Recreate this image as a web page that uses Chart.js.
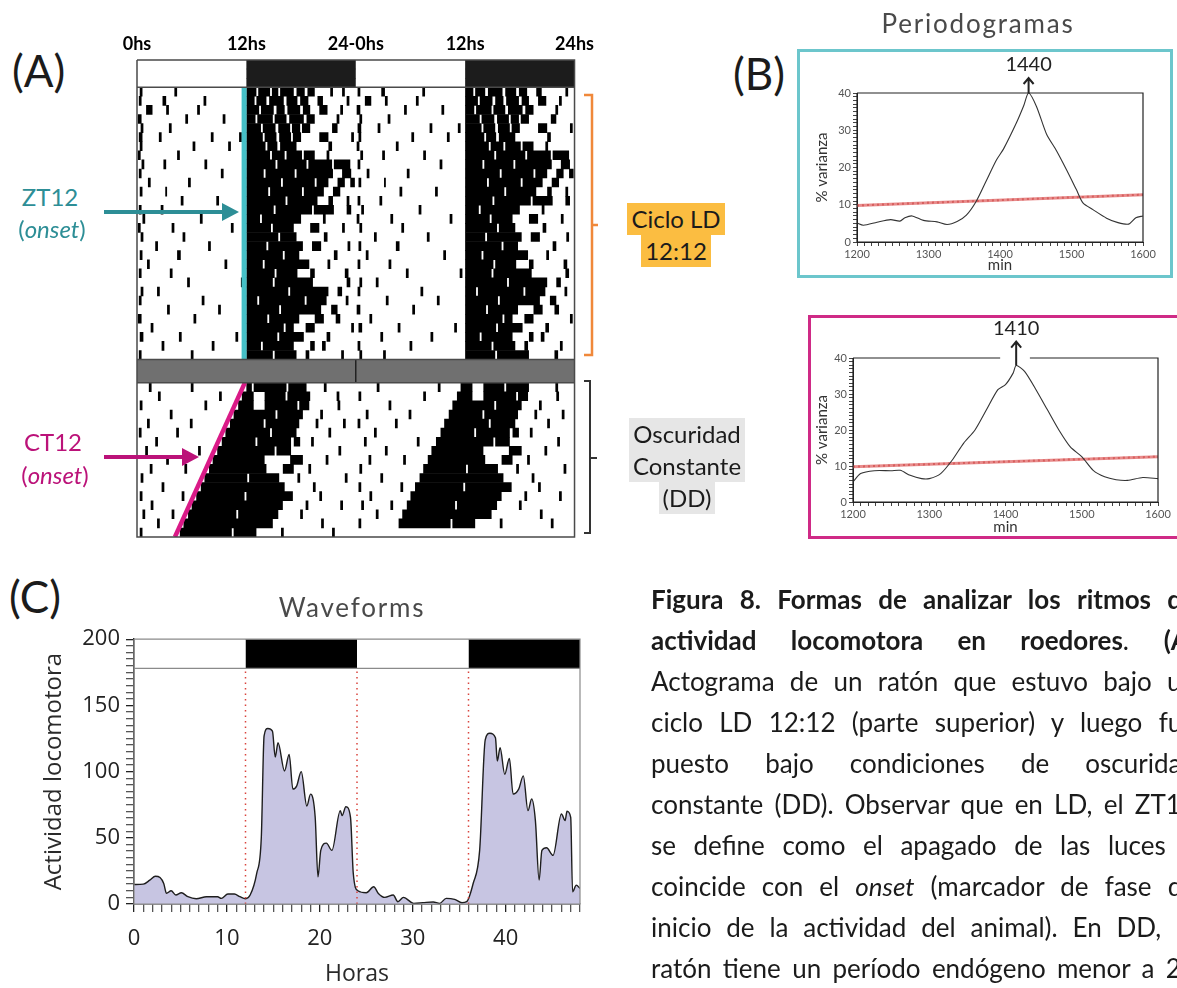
<!DOCTYPE html>
<html lang="es">
<head>
<meta charset="utf-8">
<title>Figura 8</title>
<script src="https://cdn.jsdelivr.net/npm/chart.js@4.4.1/dist/chart.umd.min.js"></script>
<style>
  html, body { margin: 0; padding: 0; background: #fff; }
  body { width: 1177px; height: 988px; position: relative; overflow: hidden; font-family: Lato, "Open Sans", sans-serif; color: #1b1b1b; }
  .abs { position: absolute; }
  .lbl { position: absolute; white-space: nowrap; }
  .panel { font-size: 44px; line-height: 1; }
  .teal { color: #2d8e96; font-size: 24px; text-align: center; width: 100px; }
  .mag { color: #bb1279; font-size: 24px; text-align: center; width: 100px; }
  .hl { text-align: center; font-size: 24px; line-height: 32px; }
  .hl span { display: inline-block; padding: 0 4px; }
  .orange span { background: #fbbd41; }
  .gray span { background: #e6e6e6; }
  .ttl { font-size: 26px; color: #4a4a4a; letter-spacing: 1.8px; text-align: center; }
  .pbox { position: absolute; box-sizing: border-box; border: 3px solid; }
  #caption { position: absolute; left: 651px; top: 579px; width: 545px; font-size: 26px; color: #1b1b1b; }
  #caption div { height: 41px; line-height: 41px; text-align: justify; text-align-last: justify; white-space: nowrap; }
</style>
</head>
<body>

<div class="lbl panel" style="left:12px;top:48px">(A)</div>
<div class="lbl panel" style="left:733px;top:51px">(B)</div>
<div class="lbl panel" style="left:9px;top:574px">(C)</div>

<div class="abs" style="left:100px;top:25px;width:499px;height:515px"><canvas id="acto"></canvas></div>

<div class="lbl teal" style="left:0px;top:182px">ZT12</div>
<div class="lbl teal" style="left:2px;top:214px">(<i>onset</i>)</div>
<div class="lbl mag" style="left:3px;top:427px">CT12</div>
<div class="lbl mag" style="left:5px;top:460px">(<i>onset</i>)</div>

<svg class="abs" style="left:0;top:0" width="1177" height="988">
  <line x1="104" y1="212" x2="226" y2="212" stroke="#2d8e96" stroke-width="4"/>
  <polygon points="222,203 239,212 222,221" fill="#2d8e96"/>
  <line x1="104" y1="457" x2="186" y2="457" stroke="#bb1279" stroke-width="4"/>
  <polygon points="182,448 199,457 182,466" fill="#bb1279"/>
  <path d="M584,95 H592 V355 H584 M592,225 H598" stroke="#f0883a" stroke-width="2.5" fill="none"/>
  <path d="M584,381 H590 V533 H584 M590,458 H597" stroke="#333" stroke-width="2" fill="none"/>
</svg>

<div class="lbl hl orange" style="left:596px;top:203px;width:160px"><span>Ciclo LD</span><br><span>12:12</span></div>
<div class="lbl hl gray" style="left:607px;top:418px;width:160px"><span>Oscuridad</span><br><span>Constante</span><br><span>(DD)</span></div>

<div class="lbl ttl" style="left:828px;top:7px;width:300px">Periodogramas</div>
<div class="pbox" style="left:797px;top:49px;width:376px;height:229px;border-color:#6cc6cc"></div>
<div class="abs" style="left:800px;top:52px;width:370px;height:222px"><canvas id="perA"></canvas></div>
<div class="pbox" style="left:808px;top:315px;width:380px;height:224px;border-color:#cf2a86"></div>
<div class="abs" style="left:811px;top:318px;width:366px;height:218px"><canvas id="perB"></canvas></div>

<div class="lbl ttl" style="left:202px;top:591px;width:300px">Waveforms</div>
<div class="abs" style="left:0px;top:620px;width:600px;height:368px"><canvas id="wave"></canvas></div>

<div id="caption">
  <div><b>Figura 8. Formas de analizar los ritmos de</b></div>
  <div><b>actividad locomotora en roedores</b>. <b>(A)</b></div>
  <div>Actograma de un ratón que estuvo bajo un</div>
  <div>ciclo LD 12:12 (parte superior) y luego fue</div>
  <div>puesto bajo condiciones de oscuridad</div>
  <div>constante (DD). Observar que en LD, el ZT12</div>
  <div>se define como el apagado de las luces y</div>
  <div>coincide con el <i>onset</i> (marcador de fase de</div>
  <div>inicio de la actividad del animal). En DD, el</div>
  <div>ratón tiene un período endógeno menor a 24</div>
</div>

<script>
// ---- actograma: horas de actividad por día [inicio, fin] ----
const hourTicks = [0, 12, 24, 36, 48];
const hourTickLabels = ['0hs', '12hs', '24-0hs', '12hs', '24hs'];
const lightsOff = [[12, 24], [36, 48]];

const ldDays = [
  [[0.3,0.6],[4.1,4.4],[11.6,11.8],[12,13.1],[13.3,14.6],[14.8,15.5],[15.7,17.2],[17.5,18.4],[18.7,19.5],[21.2,21.5],[22.5,22.8]],
  [[0.2,0.5],[2.8,3.2],[7.3,7.6],[12,12.9],[13.1,14.2],[14.5,16.1],[16.4,17.6],[17.9,18.8],[19.8,20.4],[23.0,23.3]],
  [[1.0,1.7],[3.2,3.5],[6.6,6.9],[12,13.4],[13.6,15.0],[15.3,16.2],[16.5,17.9],[18.2,19.0],[20.0,20.9],[22.3,22.6]],
  [[0.1,0.5],[5.3,5.6],[9.4,9.7],[12,13.0],[13.2,14.9],[15.1,16.4],[16.7,18.3],[18.6,19.5],[21.9,22.2]],
  [[0.4,0.7],[3.5,3.8],[12,13.6],[13.8,15.2],[15.5,16.8],[17.0,17.9],[18.1,19.0],[21.4,22.0]],
  [[0.2,0.6],[2.4,2.7],[8.1,8.4],[11.2,11.5],[12,13.8],[14.0,15.3],[15.6,16.9],[17.1,18.0],[20.0,21.0],[23.5,23.8]],
  [[0.3,0.6],[6.1,6.4],[10.0,10.3],[12,14.1],[14.3,15.4],[15.7,17.5],[21.0,21.4]],
  [[0.1,0.4],[4.4,4.7],[12,14.6],[14.8,16.2],[16.4,18.1],[18.3,19.5],[20.8,21.1]],
  [[0.5,0.8],[2.9,3.2],[7.4,7.7],[12,15.2],[15.4,18.6],[18.8,21.4],[21.6,23.4]],
  [[0.2,0.5],[9.2,9.5],[12,13.9],[14.1,17.3],[17.5,21.5],[22.5,23.5]],
  [[1.2,1.5],[5.6,5.9],[12,15.8],[16.0,19.5],[19.7,21.0],[22.0,22.8],[23.4,23.9]],
  [[0.3,0.6],[3.1,3.3],[12,14.4],[14.6,18.1],[18.3,20.5],[21.5,22.3]],
  [[4.8,5.1],[8.7,9.0],[12,16.3],[16.5,19.8],[21.0,21.5],[23.0,23.3]],
  [[0.2,0.5],[2.6,2.9],[12,15.0],[15.2,19.2],[19.4,21.6],[23.0,23.5]],
  [[0.6,0.9],[6.9,7.2],[12,13.5],[13.7,18.0],[20.4,20.7]],
  [[0.1,0.4],[3.8,4.1],[10.3,10.6],[12,14.7],[14.9,17.2],[19.0,20.0],[22.5,22.8]],
  [[0.4,0.7],[5.0,5.3],[12,15.5],[15.7,17.5],[20.5,20.9]],
  [[2.0,2.3],[7.8,8.1],[12,14.2],[14.4,18.2],[19.2,20.2],[23.1,23.4]],
  [[0.3,0.6],[4.4,4.8],[12,16.0],[16.2,17.8],[21.6,22.0]],
  [[1.1,1.4],[9.6,9.9],[12,13.8],[14.0,18.9],[20.9,21.2]],
  [[0.2,0.5],[3.6,3.9],[12,15.1],[15.3,17.6],[19.0,19.5],[22.8,23.2]],
  [[5.5,5.8],[11.4,11.7],[12,14.9],[15.1,19.3],[23.0,23.4]],
  [[0.4,0.7],[2.2,2.5],[12,16.6],[16.8,21.0],[22.0,22.5]],
  [[0.2,0.5],[7.1,7.4],[12,13.2],[13.4,18.4],[18.6,20.8],[22.9,23.2]],
  [[3.3,3.6],[8.9,9.2],[12,15.6],[15.8,20.2],[21.3,22.0]],
  [[0.1,0.5],[6.2,6.5],[12,14.3],[14.5,17.8],[19.5,20.5],[21.8,22.3]],
  [[1.5,1.8],[12,16.1],[16.3,17.2],[18.5,19.5],[23.5,23.8]],
  [[0.3,0.7],[4.6,4.9],[10.8,11.1],[12,15.4],[15.6,18.3],[20.8,21.2]],
  [[2.7,3.0],[8.2,8.5],[12,13.6],[13.8,17.2],[19.0,19.5],[20.3,20.7]],
  [[0.2,0.5],[5.9,6.2],[12,14.9],[15.1,17.5],[18.5,18.9],[22.4,22.7]],
  [[0.4,0.7],[3.0,3.3],[12,15.3],[15.5,19.0],[21.8,22.2]]
];

const ddDays = [
  [[1.3,1.6],[5.9,6.2],[12,12.6],[12.8,16.4],[16.6,18.6],[20.5,20.8]],
  [[2.3,2.6],[9.0,9.3],[11.5,12.8],[14.0,16.3],[16.5,19.0],[21.9,22.2]],
  [[0.3,0.6],[7.4,7.7],[11.1,12.8],[14.0,17.6],[17.8,18.9],[22.0,22.3]],
  [[3.6,3.9],[10.6,15.2],[15.4,18.2],[20.1,20.4]],
  [[1.1,1.4],[5.8,6.1],[10.2,13.9],[14.1,17.8],[19.6,19.9],[22.6,22.9]],
  [[0.2,0.5],[4.3,4.6],[9.7,14.6],[14.8,17.5],[21.0,21.3]],
  [[2.0,2.3],[9.3,13.0],[13.2,16.9],[17.2,17.9],[19.1,19.4]],
  [[0.9,1.2],[6.7,7.0],[8.8,15.1],[15.3,16.9],[22.1,22.4]],
  [[3.2,3.5],[8.3,14.0],[16.8,18.2],[20.7,21.0]],
  [[1.4,1.7],[5.2,5.5],[7.9,14.2],[16.0,17.2],[18.8,19.1]],
  [[0.4,0.7],[7.4,12.1],[12.3,15.6],[17.6,17.9],[22.8,23.1]],
  [[2.7,3.0],[7.0,16.2],[19.3,19.6]],
  [[0.3,0.6],[4.9,5.2],[6.5,11.8],[12.0,17.1],[20.0,20.3]],
  [[1.5,1.8],[6.0,16.0],[18.5,18.8],[22.3,22.6]],
  [[0.6,0.9],[3.8,4.1],[5.6,10.9],[11.1,15.5],[17.9,18.2]],
  [[2.2,2.5],[5.1,14.9],[20.2,20.5]],
  [[0.3,0.6],[4.7,10.4],[10.6,13.1],[15.8,16.1],[21.4,21.7]]
];

const ldOnsetLine = [[11.75, 0], [11.75, 30]];
const ddOnsetLine = [[11.84, 32.55], [4.16, 49.55]];

// ---- periodogramas ----
const periodMinA = [1200,1209,1228,1247,1260,1267,1277,1293,1312,1326,1340,1353,1367,1381,1395,1405,1423,1433,1440,1451,1465,1479,1493,1507,1516,1530,1549,1565,1580,1590,1600];
const periodVarA = [5.1,4.5,5.3,6.0,5.6,6.5,7.0,5.8,5.4,4.7,5.5,7.2,11,16.5,22,25,32,36.5,40,36.4,29,24.5,19.4,14,10.5,8.7,6.4,5.2,4.8,6.5,7.0];
const periodMinB = [1200,1210,1228,1250,1262,1275,1290,1300,1315,1330,1345,1360,1375,1390,1400,1410,1414,1425,1440,1455,1470,1485,1500,1515,1530,1545,1560,1580,1600];
const periodVarB = [5.6,7.9,8.7,8.7,8.8,7.4,6.5,6.5,7.9,11.6,16.3,20,25.6,31.2,32.6,35.8,37.9,36.3,31.2,25.6,20,15.3,12.6,8.8,7,6.2,6,6.8,6.5];
const sigMin = [1200, 1600];
const sigVarA = [9.8, 12.7];
const sigVarB = [9.8, 12.6];
const peakAt = [1440, 1414];
const peakTop = [40, 37.9];
const peakLabels = ['1440', '1410'];

// ---- waveform ----
const waveHours = [0,1.0,1.7,2.3,2.8,3.2,3.5,4.0,4.5,5.1,5.8,6.7,7.8,9.0,9.4,10.1,10.8,11.4,12.0,12.5,13.2,13.7,14.0,14.4,14.9,15.2,15.5,16.2,16.7,17.1,17.5,18.0,18.6,19.0,19.5,19.8,20.1,20.7,21.3,22.2,22.4,22.8,23.3,23.6,24.1,25.0,25.8,26.3,27.0,27.9,28.4,29.0,30.1,31.1,32.2,32.9,33.6,34.5,35.3,35.8,36.5,37.2,37.8,38.3,38.9,39.1,39.4,39.9,40.4,40.8,41.4,41.9,42.4,42.8,43.2,43.6,43.9,44.4,45.1,46.0,46.4,46.6,47.0,47.2,47.6,48.0];
const waveActivity = [14.75,15,18,21,20,15.5,8,10,6.75,8.5,5.5,4,5.5,5.5,4.25,7.5,7.5,5.5,4,6.75,23,50,127,132.5,130.5,111,121.75,100.5,113,86.75,89,100,74,83,65.5,20.5,40.5,46,40.5,70.5,66.75,73.5,65.5,23,10,8.5,13,8,5,6.75,1.75,5,0.5,1,1.5,0.5,4.25,3.5,1,1.75,15.5,40.5,124,129,125.5,108,118,98,110,83,86.75,96.75,70.5,79.25,63,18,40.5,42.5,36.75,68,63,70,65.5,9.25,14.25,11.75];
const phaseLines = [12, 24, 36];
const ldBarBottom = 178;

// ---------------------------------------------------------------
const LD_ROWS = 30, DD_TOP = 32.55, Y_MAX = 49.55;

function rowPx(ctx, rows) {
  const y = ctx.chart.scales && ctx.chart.scales.y;
  if (!y) return rows * 9;
  return Math.abs(y.getPixelForValue(rows) - y.getPixelForValue(0));
}

// doble ploteo: fila r = día r (izq) + día r+1 (der)
const actBars = [];
ldDays.forEach((day, d) => {
  day.forEach(([s, e]) => {
    if (d < LD_ROWS) actBars.push({ y: d + 0.5, x: [s, e] });
    if (d > 0) actBars.push({ y: d - 0.5, x: [s + 24, e + 24] });
  });
});
ddDays.forEach((day, d) => {
  day.forEach(([s, e]) => {
    actBars.push({ y: DD_TOP + d + 0.5, x: [s, e] });
    if (d > 0) actBars.push({ y: DD_TOP + d - 0.5, x: [s + 24, e + 24] });
  });
});
const headerBars = [];
[-2.5, -1.5, -0.5].forEach(r => lightsOff.forEach(([s, e]) => headerBars.push({ y: r, x: [s, e] })));

const framePlugin = {
  id: 'frame',
  afterDatasetsDraw(chart, args, opts) {
    if (!opts || !opts.color) return;
    const { ctx, chartArea: a, scales } = chart;
    ctx.save();
    ctx.strokeStyle = opts.color;
    ctx.lineWidth = opts.width || 1;
    ctx.beginPath();
    ctx.moveTo(a.left, a.top);
    ctx.lineTo(a.left, a.bottom);
    ctx.lineTo(a.right, a.bottom);
    ctx.lineTo(a.right, a.top);
    if (opts.gap) {
      ctx.lineTo(scales.x.getPixelForValue(opts.gap[1]), a.top);
      ctx.moveTo(scales.x.getPixelForValue(opts.gap[0]), a.top);
    }
    ctx.lineTo(a.left, a.top);
    ctx.stroke();
    (opts.rows || []).forEach(v => {
      const y = scales.y.getPixelForValue(v);
      ctx.beginPath(); ctx.moveTo(a.left, y); ctx.lineTo(a.right, y); ctx.stroke();
    });
    ctx.restore();
  }
};

const peakPlugin = {
  id: 'peak',
  afterDatasetsDraw(chart, args, opts) {
    if (!opts || opts.at == null) return;
    const { ctx, scales } = chart;
    const x = scales.x.getPixelForValue(opts.at);
    const y0 = scales.y.getPixelForValue(opts.top);
    const y1 = y0 - opts.len;
    ctx.save();
    ctx.strokeStyle = '#222';
    ctx.lineWidth = 2;
    ctx.beginPath();
    ctx.moveTo(x, y0); ctx.lineTo(x, y1);
    ctx.moveTo(x - 5, y1 + 6); ctx.lineTo(x, y1); ctx.lineTo(x + 5, y1 + 6);
    ctx.stroke();
    ctx.fillStyle = '#222';
    ctx.font = '20px Lato, sans-serif';
    ctx.textAlign = 'center';
    ctx.textBaseline = 'middle';
    ctx.fillText(opts.label, x, y1 - 13);
    ctx.restore();
  }
};

// Actograma
new Chart(document.getElementById('acto'), {
  type: 'bar',
  data: {
    datasets: [
      { type: 'line', data: ldOnsetLine.map(p => ({ x: p[0], y: p[1] })), borderColor: '#45c0c7', borderWidth: 5, borderCapStyle: 'butt', pointRadius: 0, order: 1 },
      { type: 'line', data: ddOnsetLine.map(p => ({ x: p[0], y: p[1] })), borderColor: '#da1a87', borderWidth: 4.5, borderCapStyle: 'butt', pointRadius: 0, order: 1 },
      { type: 'line', data: [{ x: 24, y: LD_ROWS }, { x: 24, y: DD_TOP }], borderColor: '#222', borderWidth: 1.5, pointRadius: 0, order: 2 },
      { type: 'line', data: [{ x: 0, y: (LD_ROWS + DD_TOP) / 2 }, { x: 48, y: (LD_ROWS + DD_TOP) / 2 }],
        borderColor: '#707070', borderCapStyle: 'butt', pointRadius: 0, order: 3,
        borderWidth: ctx => rowPx(ctx, DD_TOP - LD_ROWS) },
      { data: headerBars, backgroundColor: '#1c1c1c', grouped: false, barPercentage: 1.06, categoryPercentage: 1, borderWidth: 0, order: 4 },
      { data: actBars, backgroundColor: '#000', grouped: false, barPercentage: 1.06, categoryPercentage: 1, borderWidth: 0, order: 4 }
    ]
  },
  options: {
    indexAxis: 'y',
    animation: false,
    responsive: true,
    maintainAspectRatio: false,
    layout: { padding: { left: 37, right: 24, bottom: 3, top: 0 } },
    plugins: {
      legend: { display: false },
      tooltip: { enabled: false },
      frame: { color: '#4a4a4a', width: 1.5, rows: [0, LD_ROWS, DD_TOP] }
    },
    scales: {
      x: {
        type: 'linear', position: 'top', min: 0, max: 48, offset: false,
        grid: { display: false, drawTicks: false, offset: false },
        border: { display: false },
        afterBuildTicks: s => { s.ticks = hourTicks.map(v => ({ value: v })); },
        afterFit: s => { s.height = 35; },
        ticks: {
          maxRotation: 0, padding: 5, color: '#000',
          font: { family: 'Lato', size: 18, weight: 'bold' },
          callback: (v, i) => hourTickLabels[i]
        }
      },
      y: { type: 'linear', min: -3, max: Y_MAX, reverse: true, display: false, offset: false, ticks: { stepSize: 10 } }
    }
  },
  plugins: [framePlugin]
});

// Periodogramas
function periodogram(id, mins, vars, sigVar, idx, box) {
  const sig = sigMin.map((m, i) => ({ x: m, y: sigVar[i] }));
  return new Chart(document.getElementById(id), {
    type: 'line',
    data: {
      datasets: [
        { data: mins.map((m, i) => ({ x: m, y: vars[i] })), borderColor: '#333', borderWidth: 1.1, pointRadius: 0, tension: 0.25 },
        { data: sig, borderColor: 'rgba(226,110,110,0.8)', borderWidth: 3, pointRadius: 0 },
        { data: sig, borderColor: '#a8231e', borderWidth: 2, borderDash: [2, 3], pointRadius: 0 }
      ]
    },
    options: {
      animation: false,
      responsive: true,
      maintainAspectRatio: false,
      layout: { padding: { top: box.top, right: box.right, left: 0, bottom: 0 } },
      plugins: {
        legend: { display: false },
        tooltip: { enabled: false },
        frame: { color: '#222', width: 1.2, gap: box.gap },
        peak: { at: peakAt[idx], top: peakTop[idx], len: box.len, label: peakLabels[idx] }
      },
      scales: {
        x: {
          type: 'linear', min: 1200, max: 1600,
          afterFit: s => { s.height = box.xh; },
          grid: { drawOnChartArea: false, tickLength: 4, color: '#444' },
          border: { color: '#222' },
          title: { display: true, text: 'min', color: '#333', font: { family: 'Lato', size: 15 }, padding: { top: 0, bottom: 0 } },
          ticks: { stepSize: 10, autoSkip: false, maxTicksLimit: 100, maxRotation: 0, padding: 2, color: '#555',
            font: { family: 'Lato', size: 11 }, callback: v => (v % 100 === 0 ? v : '') }
        },
        y: {
          type: 'linear', min: 0, max: 40,
          afterFit: s => { s.width = box.yw; },
          grid: { drawOnChartArea: false, tickLength: 4, color: '#444' },
          border: { color: '#222' },
          title: { display: true, text: '% varianza', color: '#333', font: { family: 'Lato', size: 15 }, padding: { top: box.tp, bottom: 0 } },
          ticks: { stepSize: 1, autoSkip: false, maxTicksLimit: 100, padding: 2, color: '#555',
            font: { family: 'Lato', size: 11 }, callback: v => (v % 10 === 0 ? v : '') }
        }
      }
    },
    plugins: [framePlugin, peakPlugin]
  });
}
periodogram('perA', periodMinA, periodVarA, sigVarA, 0, { top: 41, right: 27, xh: 32, yw: 57, tp: 13, len: 15, gap: null });
periodogram('perB', periodMinB, periodVarB, sigVarB, 1, { top: 40, right: 19, xh: 34, yw: 42, tp: 2, len: 24, gap: [1393, 1432] });

// Waveform
const waveSets = [
  { data: waveHours.map((h, i) => ({ x: h, y: waveActivity[i] })), borderColor: '#1e1e1e', borderWidth: 1.4,
    backgroundColor: '#c7c5e2', fill: 'origin', pointRadius: 0, cubicInterpolationMode: 'monotone', order: 3 },
  { data: [{ x: 0, y: ldBarBottom }, { x: 48, y: ldBarBottom }], borderColor: '#8a8a8a', borderWidth: 1.2, pointRadius: 0, order: 1 }
];
lightsOff.forEach(([s, e]) => waveSets.push({
  data: [{ x: s, y: 200 }, { x: e, y: 200 }], borderColor: '#000', borderWidth: 1, backgroundColor: '#000',
  fill: { value: ldBarBottom }, pointRadius: 0, order: 1
}));
phaseLines.forEach(h => waveSets.push({
  data: [{ x: h, y: 0 }, { x: h, y: ldBarBottom }], borderColor: '#d9443d', borderWidth: 1.5, borderDash: [1.5, 4],
  pointRadius: 0, order: 2
}));

new Chart(document.getElementById('wave'), {
  type: 'line',
  data: { datasets: waveSets },
  options: {
    animation: false,
    responsive: true,
    maintainAspectRatio: false,
    layout: { padding: { top: 17, right: 20, left: 0, bottom: 0 } },
    plugins: {
      legend: { display: false },
      tooltip: { enabled: false },
      frame: { color: '#8a8a8a', width: 1.2 }
    },
    scales: {
      x: {
        type: 'linear', min: 0, max: 48,
        afterFit: s => { s.height = 84; },
        grid: { drawOnChartArea: false, tickLength: 8, lineWidth: 1.3,
          color: c => (c.tick && c.tick.value % 10 === 0 ? '#222' : '#555') },
        border: { color: '#333', width: 1.5 },
        title: { display: true, text: 'Horas', color: '#2a2a2a', font: { family: 'Open Sans', size: 23 }, padding: { top: 0, bottom: 0 } },
        ticks: { stepSize: 1, autoSkip: false, maxTicksLimit: 100, maxRotation: 0, padding: 14, color: '#222',
          font: { family: 'Open Sans', size: 22 }, callback: v => (v % 10 === 0 ? v : '') }
      },
      y: {
        type: 'linear', min: 0, max: 200,
        afterFit: s => { s.width = 134; },
        grid: { drawOnChartArea: false, tickLength: 8, lineWidth: 1.3,
          color: c => (c.tick && c.tick.value % 50 === 0 ? '#222' : '#555') },
        border: { color: '#333', width: 1.5 },
        title: { display: true, text: 'Actividad locomotora', color: '#2a2a2a', font: { family: 'Open Sans', size: 24 }, padding: { top: 40, bottom: 0 } },
        ticks: { stepSize: 5, autoSkip: false, maxTicksLimit: 100, padding: 6, color: '#222',
          font: { family: 'Open Sans', size: 22 }, callback: v => (v % 50 === 0 ? v : '') }
      }
    }
  },
  plugins: [framePlugin]
});
</script>
</body>
</html>
